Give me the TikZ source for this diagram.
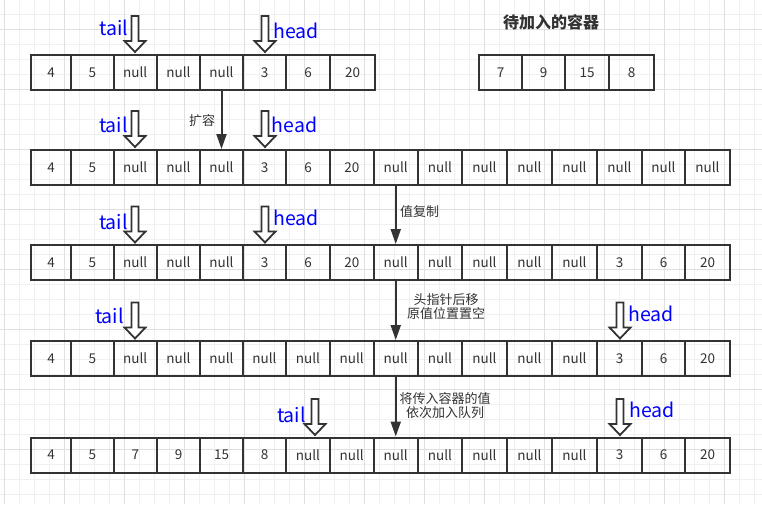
\documentclass[tikz,border=0pt]{standalone}
\usepackage{fontspec}
\setmainfont{Noto Sans CJK SC}
\usetikzlibrary{arrows.meta}
\definecolor{ink}{HTML}{333333}
\definecolor{gridminor}{HTML}{F0F0F0}
\definecolor{gridmajor}{HTML}{E0E0E0}
\definecolor{ptrblue}{HTML}{0000FF}
\tikzset{
  cell/.style={draw=ink, line width=2pt, inner sep=0pt, minimum height=35pt, text=ink, font=\fontsize{13.5}{15}\selectfont},
  conn/.style={draw=ink, line width=2pt, -{Triangle[length=15pt,width=10pt]}},
  lbl/.style={text=ink, font=\fontsize{13}{14}\selectfont, inner sep=0pt, align=center},
  ttl/.style={text=ink, font=\fontsize{16}{18}\selectfont\bfseries, inner sep=0pt},
  ptrtext/.style={text=ptrblue, font=\fontsize{19.5}{21}\selectfont, inner sep=0pt},
  pics/ptr/.style={code={\draw[draw=ink, fill=white, line width=1.8pt, line join=miter]
    (-3.5,0) -- (-3.5,25) -- (-10.5,25) -- (0,36) -- (10.5,25) -- (3.5,25) -- (3.5,0) -- cycle;}}
}
\def\bndA{{31,71,113.5,157,200,243,286,330,375}}
\def\bndB{{31,71,113.5,157,200,243,286,330,373.5,418,462,507,552,597,642,685,730}}
\def\bndC{{479,522.3,565,609,654}}
% #1 name, #2 top y, #3 bounds, #4 list
\newcommand\qrow[4]{%
  \foreach \t [count=\i] in {#4} {
    \pgfmathsetmacro\xl{#3[\i-1]}
    \pgfmathsetmacro\xr{#3[\i]}
    \node[cell, minimum width={(\xr-\xl)*1pt}] (#1-\i) at ({(\xl+\xr)/2}, {#2+17.5}) {\t};
  }}
\begin{document}
\begin{tikzpicture}[x=1pt, y=-1pt]
\useasboundingbox (0,0) rectangle (762,504);
\fill[white] (0,0) rectangle (762,504);
% grid
\foreach \x in {4.5,19.5,...,762} \draw[gridminor, line width=1pt] (\x,0) -- (\x,504);
\foreach \y in {14.5,29.5,...,504} \draw[gridminor, line width=1pt] (0,\y) -- (762,\y);
\foreach \x in {4.5,64.5,...,762} \draw[gridmajor, line width=1pt] (\x,0) -- (\x,504);
\foreach \y in {29.5,89.5,...,504} \draw[gridmajor, line width=1pt] (0,\y) -- (762,\y);

% rows
\qrow{ra}{55}{\bndA}{4,5,null,null,null,3,6,20}
\qrow{rb}{150}{\bndB}{4,5,null,null,null,3,6,20,null,null,null,null,null,null,null,null}
\qrow{rc}{245}{\bndB}{4,5,null,null,null,3,6,20,null,null,null,null,null,3,6,20}
\qrow{rd}{341}{\bndB}{4,5,null,null,null,null,null,null,null,null,null,null,null,3,6,20}
\qrow{re}{437.5}{\bndB}{4,5,7,9,15,8,null,null,null,null,null,null,null,3,6,20}
\qrow{rx}{55}{\bndC}{7,9,15,8}

\node[ttl] (title) at (551,22) {待加入的容器};

% connectors
\draw[conn] (ra-5.south) -- (rb-5.north);
\draw[conn] (rb-9.south) -- (rc-9.north);
\draw[conn] (rc-9.south) -- (rd-9.north);
\draw[conn] (rd-9.south) -- (re-9.north);

\node[lbl] (l1) at (202,121) {扩容};
\node[lbl, anchor=west] (l2) at (400,212) {值复制};
\node[lbl] (l3) at (446,306.5) {头指针后移\\原值位置置空};
\node[lbl] (l4) at (445,406) {将传入容器的值\\依次加入队列};

% pointers
\pic at (135,16) {ptr};
\pic at (265,16) {ptr};
\node[ptrtext, anchor=east] (ta) at (128.3,27.9) {tail};
\node[ptrtext, anchor=west] (ha) at (273,31.2) {head};

\pic at (135,111) {ptr};
\pic at (265,111) {ptr};
\node[ptrtext, anchor=east] (tb) at (128,124.5) {tail};
\node[ptrtext, anchor=west] (hb) at (271.7,124.5) {head};

\pic at (135,206.5) {ptr};
\pic at (265,206.5) {ptr};
\node[ptrtext, anchor=east] (tc) at (128,221.5) {tail};
\node[ptrtext, anchor=west] (hc) at (273.3,217.5) {head};

\pic at (135,302.5) {ptr};
\pic at (620,302.5) {ptr};
\node[ptrtext, anchor=east] (td) at (124,315.5) {tail};
\node[ptrtext, anchor=west] (hd) at (628.3,314.2) {head};

\pic at (315,399) {ptr};
\pic at (620,399) {ptr};
\node[ptrtext, anchor=east] (te) at (306,415) {tail};
\node[ptrtext, anchor=west] (he) at (629.3,410) {head};
\end{tikzpicture}
\end{document}
